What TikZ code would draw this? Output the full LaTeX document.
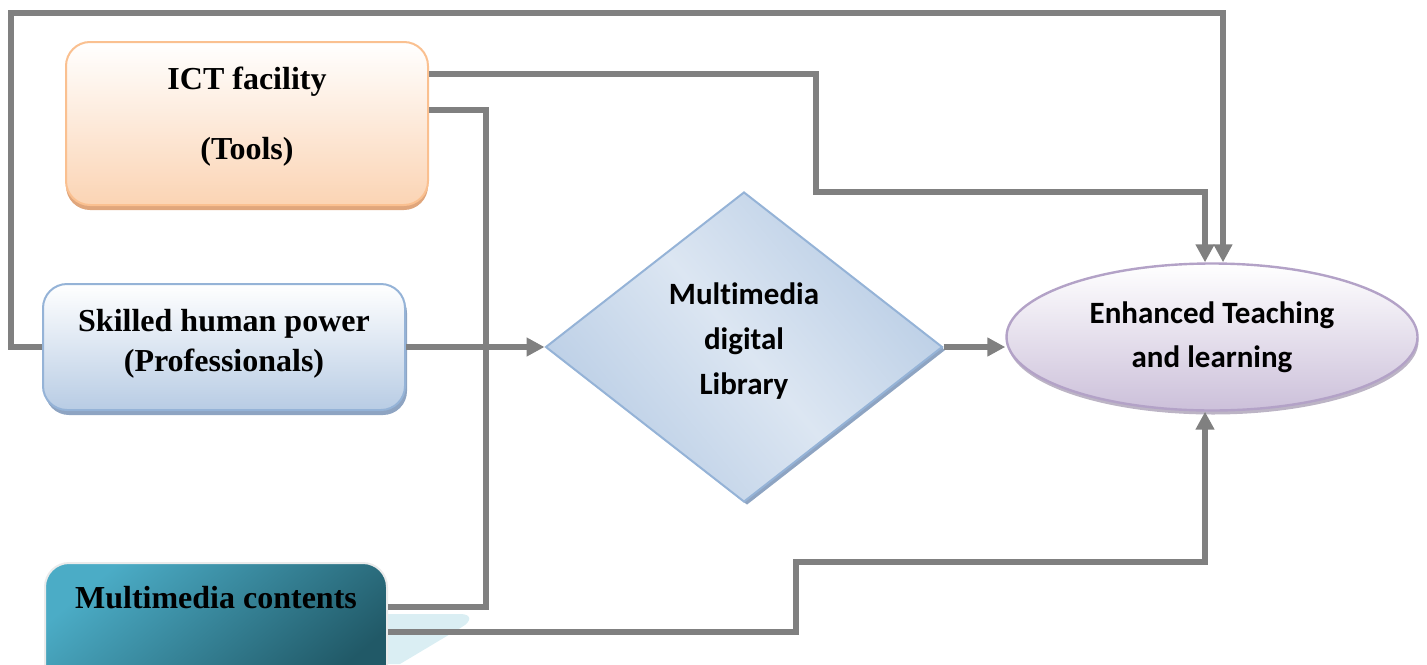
\documentclass[tikz,border=0pt]{standalone}
\usepackage{fontspec}
\setmainfont{Liberation Serif}
\newfontfamily\calibri[Ligatures=NoCommon]{Carlito}
\usetikzlibrary{arrows.meta,shapes.geometric,shadows}

\definecolor{linkgray}{HTML}{808080}
\definecolor{ictfill}{HTML}{FBD4B4}
\definecolor{ictline}{HTML}{FAC090}
\definecolor{ictshadow}{HTML}{E0A67C}
\definecolor{skillfill}{HTML}{B8CCE4}
\definecolor{skillline}{HTML}{95B3D7}
\definecolor{skillshadow}{HTML}{8EA4C2}
\definecolor{tealtop}{HTML}{4BACC6}
\definecolor{tealbot}{HTML}{215967}
\definecolor{libdark}{HTML}{B9CDE5}
\definecolor{liblight}{HTML}{DCE6F2}
\definecolor{enhfill}{HTML}{CCC0DA}
\definecolor{enhline}{HTML}{B3A2C7}
\definecolor{reflect}{HTML}{DAEEF3}

\begin{document}
\begin{tikzpicture}[x=0.5pt,y=-0.5pt,
    box/.style={rounded corners=12pt, line width=1pt, align=center, inner sep=0pt,
      font=\fontsize{16}{20}\selectfont\bfseries},
    sans/.style={font=\calibri\fontsize{15.5}{22.5}\selectfont\bfseries, align=center, inner sep=0pt},
    link/.style={draw=linkgray, line width=3pt},
    tip/.style={-{Triangle[length=9pt,width=9pt]}}]
  \useasboundingbox (0,0) rectangle (1427,664);
  \clip (0,0) rectangle (1427,664);

  % boxes on the left
  \node[box, draw=ictline, top color=white, bottom color=ictfill,
    minimum width=181pt, minimum height=81.5pt,
    drop shadow={shadow xshift=0pt, shadow yshift=-2.5pt, fill=ictshadow, opacity=1}]
    (ict) at (247,123.5) {ICT facility\\[15pt](Tools)\\[-9.5pt]\mbox{}};
  \node[box, draw=skillline, top color=white, bottom color=skillfill,
    minimum width=181pt, minimum height=63pt,
    drop shadow={shadow xshift=1pt, shadow yshift=-2.5pt, fill=skillshadow, opacity=1}]
    (skilled) at (224,347) {Skilled human power\\(Professionals)\\[-13.5pt]\mbox{}};
  \fill[reflect] (388,614) -- (460,614) .. controls (472,614) and (472,621) .. (462,627)
    -- (400,664) -- (388,664) -- cycle;
  \node[box, draw=white!92!black, top color=tealtop, bottom color=tealbot, shading angle=40,
    minimum width=171pt, text height=22.5pt, text depth=41pt]
    (contents) at (216,626.5) {Multimedia contents};

  % diamond and ellipse
  \node[sans, diamond, draw=skillline, line width=1pt, left color=libdark, right color=libdark,
    middle color=liblight, shading angle=130, minimum width=198.5pt, minimum height=155pt,
    drop shadow={shadow xshift=1.5pt, shadow yshift=-1.5pt, fill=skillshadow, opacity=1}]
    (library) at (744,347) {Multimedia\\digital\\Library\\[-14.4pt]\mbox{}};
  \node[sans, ellipse, draw=enhline, line width=1.2pt, top color=white, bottom color=enhfill,
    minimum width=205.5pt, minimum height=73.5pt,
    drop shadow={shadow xshift=0.5pt, shadow yshift=-2pt, fill=enhline!80!black, opacity=0.6},
    font=\calibri\fontsize{15.5}{22}\selectfont\bfseries]
    (enhanced) at (1212,337) {Enhanced Teaching\\and learning};

  % connectors
  \draw[link,tip] (skilled.west) -| (11,13) -| ([xshift=5.5pt]enhanced.north);
  \draw[link,tip] ([yshift=25pt]ict.east) -| (816,192) -| ([xshift=-3.5pt]enhanced.north);
  \draw[link] ([yshift=7pt]ict.east) -| (486,607) -- ([yshift=9.75pt]contents.east);
  \draw[link,tip] (skilled.east) -- (library.west);
  \draw[link,tip] (library.east) -- (library.east -| enhanced.west);
  \draw[link,tip] ([yshift=-2.75pt]contents.east) -| (796,562) -| ([xshift=-3.5pt]enhanced.south);
\end{tikzpicture}
\end{document}
